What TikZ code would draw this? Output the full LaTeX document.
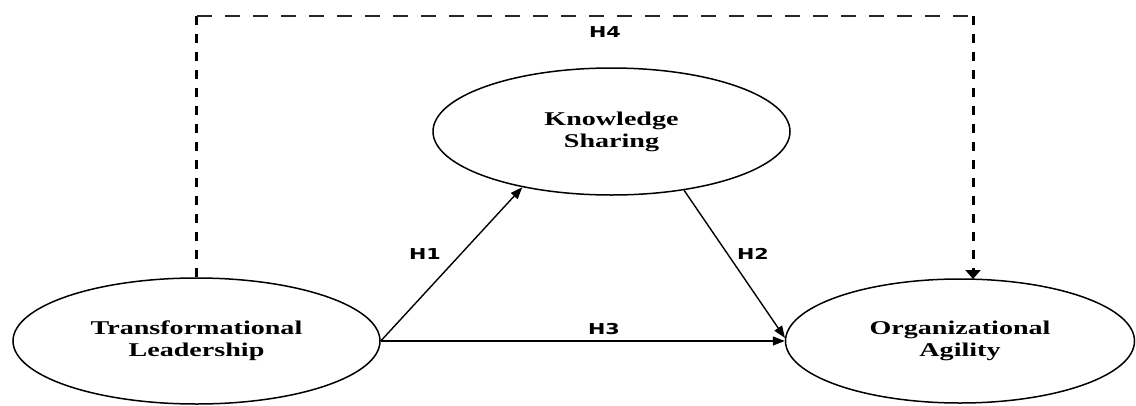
\documentclass[tikz,border=0pt]{standalone}
\usepackage{fontspec}
\usetikzlibrary{shapes.geometric,arrows.meta}
\newfontfamily\ellfont{Liberation Serif}[FakeStretch=1.44]
\newfontfamily\hfont{DejaVu Sans}[FakeStretch=1.38]
\begin{document}
\begin{tikzpicture}[x=1pt,y=-1pt,
  construct/.style={draw=black,line width=1.5pt,ellipse,inner sep=0pt,align=center,
    font=\ellfont\bfseries\fontsize{19.5}{22}\selectfont},
  hyp/.style={font=\hfont\bfseries\fontsize{15}{18}\selectfont,inner sep=0pt},
  path arrow/.style={line width=1.4pt,-{Triangle[length=12pt,width=9pt]}},
  hdash/.style={line width=1.7pt,black!85,dash pattern=on 15pt off 13pt},
  vdash/.style={line width=3pt,black,dash pattern=on 9pt off 9pt}]
\useasboundingbox (0,0) rectangle (1136,405);
\node[construct,minimum width=367pt,minimum height=126pt] (TL) at (196.5,341) {Transformational\\Leadership};
\node[construct,minimum width=357pt,minimum height=127pt] (KS) at (611.5,131.5) {Knowledge\\Sharing};
\node[construct,minimum width=349pt,minimum height=124pt] (OA) at (960,341) {Organizational\\Agility};
\coordinate (c1) at (196.5,16);
\coordinate (c2) at (973,16);
\coordinate (c3) at (973,279);
\draw[vdash] (TL.north) -- (c1);
\draw[hdash] (c1) -- (c2);
\draw[vdash,-{Triangle[length=9pt,width=15pt]}] (c2) -- (c3);
\draw[path arrow] (TL.east) -- (KS.212.7);
\draw[path arrow] (KS.-39) -- (OA.179);
\draw[path arrow] (TL.east) -- (OA.west);
\node[hyp] (h1) at (425,254) {H1};
\node[hyp] (h2) at (753,254) {H2};
\node[hyp] (h3) at (604,329) {H3};
\node[hyp] (h4) at (605,32) {H4};
\end{tikzpicture}
\end{document}
